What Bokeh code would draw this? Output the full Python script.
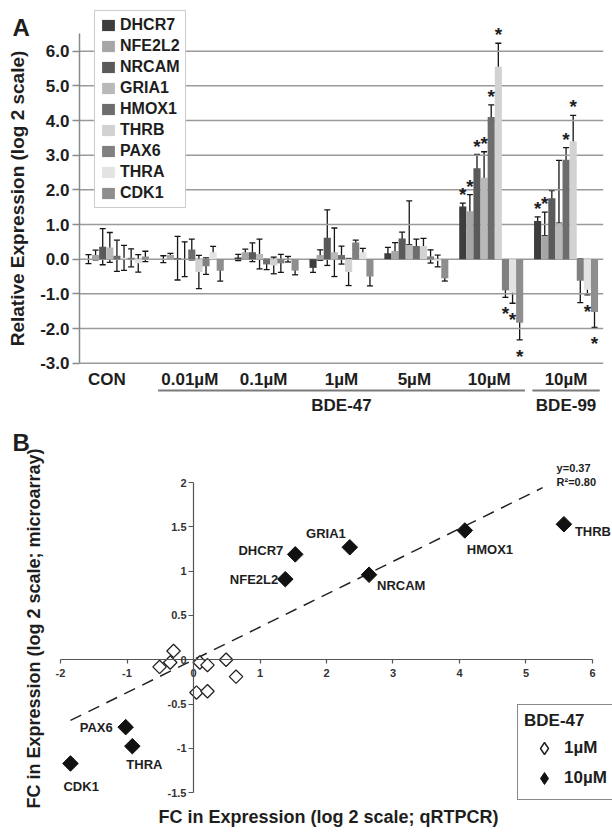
from math import pi
from bokeh.plotting import figure
from bokeh.models import (Range1d, LinearAxis, FixedTicker, NumeralTickFormatter,
                          CustomJSTickFormatter, ColumnDataSource, Whisker, TeeHead,
                          Legend, LegendItem, Label)
from bokeh.embed import file_html
from bokeh.resources import INLINE
from bokeh.core.properties import value

FONT = "Liberation Sans"
INK = "#1e1e1e"

# ---------------- Panel A data ----------------
GENES = ["DHCR7", "NFE2L2", "NRCAM", "GRIA1", "HMOX1", "THRB", "PAX6", "THRA", "CDK1"]
GROUPS = ["CON", "0.01µM", "0.1µM", "1µM", "5µM", "10µM", "10µM"]
COMPOUND_LABELS = ["BDE-47", "BDE-99"]
COMPOUND_GROUPS = [[1, 2, 3, 4, 5], [6]]
Y_TICKS_A = [-3, -2, -1, 0, 1, 2, 3, 4, 5, 6]

VALUES = {
    "DHCR7":  [0.00, 0.00, 0.05, -0.25, 0.17, 1.52, 1.10],
    "NFE2L2": [0.12, 0.12, 0.20, 0.12, 0.24, 1.38, 0.68],
    "NRCAM":  [0.36, 0.03, 0.20, 0.62, 0.60, 2.62, 1.76],
    "GRIA1":  [0.34, 0.00, 0.15, 0.20, 0.42, 2.35, 1.04],
    "HMOX1":  [0.10, 0.28, -0.15, 0.12, 0.38, 4.10, 2.87],
    "THRB":   [0.04, -0.37, -0.18, -0.37, 0.38, 5.55, 3.40],
    "PAX6":   [0.04, -0.20, -0.12, 0.48, 0.08, -0.90, -0.62],
    "THRA":   [-0.12, 0.20, 0.00, 0.20, -0.05, -0.97, -0.88],
    "CDK1":   [0.08, -0.33, -0.33, -0.50, -0.55, -1.83, -1.52],
}
ERR_UP = {
    "DHCR7":  [0.13, 0.10, 0.09, 0.13, 0.17, 0.10, 0.12],
    "NFE2L2": [0.14, 0.05, 0.09, 0.15, 0.24, 0.48, 0.68],
    "NRCAM":  [0.52, 0.63, 0.27, 0.80, 0.18, 0.40, 0.22],
    "GRIA1":  [0.43, 0.50, 0.43, 0.70, 1.26, 0.75, 1.81],
    "HMOX1":  [0.45, 0.30, 0.15, 0.26, 0.20, 0.35, 0.35],
    "THRB":   [0.36, 0.48, 0.24, 0.39, 0.22, 0.68, 0.75],
    "PAX6":   [0.26, 0.24, 0.26, 0.07, 0.19, 0.20, 0.63],
    "THRA":   [0.25, 0.17, 0.08, 0.11, 0.17, 0.30, 0.15],
    "CDK1":   [0.15, 0.30, 0.12, 0.27, 0.08, 0.50, 0.45],
}
ERR_DN = {
    "DHCR7":  [0.13, 0.10, 0.09, 0.13, 0.17, 0.10, 0.12],
    "NFE2L2": [0.14, 0.05, 0.09, 0.15, 0.24, 0.48, 0.00],
    "NRCAM":  [0.52, 0.63, 0.27, 0.80, 0.18, 0.40, 0.22],
    "GRIA1":  [0.43, 0.50, 0.43, 0.70, 0.00, 0.75, 0.00],
    "HMOX1":  [0.45, 0.30, 0.15, 0.26, 0.20, 0.35, 0.35],
    "THRB":   [0.36, 0.48, 0.24, 0.39, 0.22, 0.68, 0.75],
    "PAX6":   [0.26, 0.24, 0.26, 0.07, 0.19, 0.20, 0.63],
    "THRA":   [0.25, 0.17, 0.08, 0.11, 0.17, 0.30, 0.15],
    "CDK1":   [0.15, 0.30, 0.12, 0.27, 0.08, 0.50, 0.45],
}
STARS = {
    "DHCR7":  [0, 0, 0, 0, 0, 1, 1],
    "NFE2L2": [0, 0, 0, 0, 0, 1, 1],
    "NRCAM":  [0, 0, 0, 0, 0, 1, 0],
    "GRIA1":  [0, 0, 0, 0, 0, 1, 0],
    "HMOX1":  [0, 0, 0, 0, 0, 1, 1],
    "THRB":   [0, 0, 0, 0, 0, 1, 1],
    "PAX6":   [0, 0, 0, 0, 0, 1, 0],
    "THRA":   [0, 0, 0, 0, 0, 1, 1],
    "CDK1":   [0, 0, 0, 0, 0, 1, 1],
}
COLORS = {
    "DHCR7": "#3d3d3d", "NFE2L2": "#a6a6a6", "NRCAM": "#5a5a5a",
    "GRIA1": "#b9b9b9", "HMOX1": "#6d6d6d", "THRB": "#d2d2d2",
    "PAX6": "#808080", "THRA": "#e3e3e3", "CDK1": "#8e8e8e",
}
GROUP_LABEL_DX = [-10, -2, -3, 0, -2, -2, 0]   # style: nudges of the category labels (px)

# ---------------- Panel B data ----------------
B_GENES = ["DHCR7", "NFE2L2", "GRIA1", "NRCAM", "HMOX1", "THRB", "PAX6", "THRA", "CDK1"]
QPCR_10UM = [1.53, 1.38, 2.35, 2.64, 4.08, 5.57, -1.02, -0.92, -1.85]
ARRAY_10UM = [1.19, 0.91, 1.27, 0.96, 1.46, 1.53, -0.76, -0.975, -1.17]
QPCR_1UM = [-0.30, -0.51, -0.35, 0.095, 0.21, 0.49, 0.64, 0.045, 0.21]
ARRAY_1UM = [0.10, -0.08, -0.03, -0.03, -0.06, 0.00, -0.19, -0.37, -0.355]
FIT_SLOPE = 0.37
FIT_R2 = 0.80
FIT_X = [-1.85, 5.25]
B_X_TICKS = [-2, -1, 0, 1, 2, 3, 4, 5, 6]
B_Y_TICKS = [-1.5, -1, -0.5, 0, 0.5, 1, 1.5, 2]
B_X_TITLE = "FC in Expression (log 2 scale; qRTPCR)"
B_Y_TITLE = "FC in Expression (log 2 scale; microarray)"

# label placement (style): align, x offset px, y offset px
LABEL_STYLE = {
    "DHCR7": ("right", -12, -4), "NFE2L2": ("right", -7, 0), "GRIA1": ("right", -4, -14),
    "NRCAM": ("left", 8, 11), "HMOX1": ("left", 2, 19), "THRB": ("left", 11, 7),
    "PAX6": ("right", -13, 0), "THRA": ("left", -6, 18), "CDK1": ("left", -7, 23),
}

# =============== Panel A figure ===============
BW = 0.095
H1 = 416
p1 = figure(width=612, height=H1, x_range=Range1d(-1.0553, 7), y_range=Range1d(-4.5375, 7.4625),
            output_backend="svg", toolbar_location=None, x_axis_location=None,
            y_axis_location=None, min_border_left=0, min_border_right=9,
            min_border_top=0, min_border_bottom=0)
p1.outline_line_color = None
p1.xgrid.visible = False
p1.ygrid.visible = False

# horizontal grid lines across the plotting area
p1.segment(x0=[0] * len(Y_TICKS_A), x1=[len(GROUPS)] * len(Y_TICKS_A), y0=Y_TICKS_A, y1=Y_TICKS_A,
           line_color="#9a9a9a", line_width=1.5)

ya = LinearAxis(fixed_location=0, bounds=(-3, 6.5), ticker=FixedTicker(ticks=Y_TICKS_A),
                formatter=NumeralTickFormatter(format="0.0"),
                axis_label="Relative Expression (log 2 scale)",
                axis_label_text_font=FONT, axis_label_text_font_style="bold",
                axis_label_text_font_size="19px", axis_label_text_color=INK,
                axis_label_standoff=9,
                major_label_text_font=FONT, major_label_text_font_style="bold",
                major_label_text_font_size="17px", major_label_text_color=INK,
                major_label_standoff=3, axis_line_color="#8a8a8a", axis_line_width=1.5,
                major_tick_line_color="#8a8a8a", major_tick_line_width=1.5,
                major_tick_out=7, major_tick_in=0, minor_tick_line_color=None)
p1.add_layout(ya, "left")

legend_items = []
star_x, star_y = [], []
for gi, gene in enumerate(GENES):
    xs = [g + 0.5 + (gi - 4) * BW for g in range(len(GROUPS))]
    vals = VALUES[gene]
    up = [v + e for v, e in zip(vals, ERR_UP[gene])]
    lo = [v - e for v, e in zip(vals, ERR_DN[gene])]
    src = ColumnDataSource(dict(x=xs, top=vals, upper=up, lower=lo))
    r = p1.vbar(x="x", top="top", bottom=0, width=BW, source=src,
                fill_color=COLORS[gene], line_color=None)
    legend_items.append(LegendItem(label=gene, renderers=[r]))
    w = Whisker(source=src, base="x", upper="upper", lower="lower",
                line_color="#151515", line_width=1.3,
                upper_head=TeeHead(size=6, line_color="#151515", line_width=1.3),
                lower_head=TeeHead(size=6, line_color="#151515", line_width=1.3))
    p1.add_layout(w)
    for g in range(len(GROUPS)):
        if STARS[gene][g]:
            star_x.append(xs[g])
            star_y.append(up[g] + 0.36 if vals[g] >= 0 else lo[g] - 0.36)

p1.text(x=star_x, y=star_y, text=["*"] * len(star_x), text_font=value(FONT),
        text_font_style="bold", text_font_size="19px", text_color=INK,
        text_align="center", text_baseline="middle", y_offset=4)

# category labels
p1.text(x=[g + 0.5 for g in range(len(GROUPS))], y=[-3.47] * len(GROUPS), text=GROUPS,
        x_offset=GROUP_LABEL_DX,
        text_font=value(FONT), text_font_style="bold", text_font_size="17px",
        text_color=INK, text_align="center", text_baseline="middle")
# compound underline + labels
p1.segment(x0=[grp[0] + 0.05 for grp in COMPOUND_GROUPS],
           x1=[grp[-1] + 1 - 0.05 for grp in COMPOUND_GROUPS],
           y0=[-3.79] * 2, y1=[-3.79] * 2, line_color="#7a7a7a", line_width=2)
p1.text(x=[(grp[0] + grp[-1] + 1) / 2 for grp in COMPOUND_GROUPS], y=[-4.22] * 2,
        text=COMPOUND_LABELS, text_font=value(FONT), text_font_style="bold",
        text_font_size="17px", text_color=INK, text_align="center", text_baseline="middle")

leg1 = Legend(items=legend_items, location=(94, 208), glyph_width=16, glyph_height=14,
              label_height=18, label_standoff=4, spacing=3, padding=5, margin=0,
              label_text_font=FONT, label_text_font_style="bold",
              label_text_font_size="16px", label_text_color=INK,
              border_line_color="#9a9a9a", border_line_width=1.5,
              background_fill_color="white", background_fill_alpha=1.0)
p1.add_layout(leg1)

p1.add_layout(Label(x=12, y=13, x_units="canvas", y_units="canvas", text="A",
                    text_font=FONT, text_font_style="bold", text_font_size="24px",
                    text_color=INK, text_baseline="top"))

# =============== Panel B figure ===============
H2 = 413
p2 = figure(width=612, height=H2, x_range=Range1d(-2.9023, 6.3008), y_range=Range1d(-1.9153, 2.746),
            output_backend="svg", toolbar_location=None, x_axis_location=None,
            y_axis_location=None, min_border_left=0, min_border_right=0,
            min_border_top=0, min_border_bottom=0)
p2.outline_line_color = None
p2.xgrid.visible = False
p2.ygrid.visible = False

tick_fmt = CustomJSTickFormatter(code="return String(tick)")
common_axis = dict(axis_line_color="#555555", axis_line_width=1.2,
                   major_tick_line_color="#555555", major_tick_line_width=1.2,
                   minor_tick_line_color=None, major_tick_in=0,
                   major_label_text_font=FONT, major_label_text_font_style="bold",
                   major_label_text_font_size="11px", major_label_text_color="#333333")
xa = LinearAxis(fixed_location=0, bounds=(-2, 6), ticker=FixedTicker(ticks=B_X_TICKS),
                formatter=tick_fmt, major_tick_out=4, major_label_standoff=5, **common_axis)
p2.add_layout(xa, "below")
yb = LinearAxis(fixed_location=0, bounds=(-1.5, 2), ticker=FixedTicker(ticks=B_Y_TICKS),
                formatter=tick_fmt, major_tick_out=5, major_label_standoff=2, **common_axis)
p2.add_layout(yb, "left")

# axis titles
p2.add_layout(Label(x=328, y=400, x_units="canvas", y_units="canvas", text=B_X_TITLE,
                    text_font=FONT, text_font_style="bold", text_font_size="18px",
                    text_color=INK, text_align="center", text_baseline="middle"))
p2.add_layout(Label(x=33, y=212, x_units="canvas", y_units="canvas", text=B_Y_TITLE,
                    angle=pi / 2, text_font=FONT, text_font_style="bold",
                    text_font_size="18px", text_color=INK, text_align="center",
                    text_baseline="middle"))

# regression line
p2.line(x=FIT_X, y=[FIT_SLOPE * x for x in FIT_X], line_color="#222222",
        line_width=1.5, line_dash="12 8")
p2.text(x=[5.46, 5.46], y=[2.165, 2.005],
        text=["y=%.2f" % FIT_SLOPE, "R²=%.2f" % FIT_R2], text_font=value(FONT),
        text_font_style="bold", text_font_size="11px", text_color=INK,
        text_align="left", text_baseline="middle")

open_r = p2.scatter(x=QPCR_1UM, y=ARRAY_1UM, marker="square", angle=pi / 4, size=9.5,
                    fill_color="white", line_color="#222222", line_width=1.3)
filled_r = p2.scatter(x=QPCR_10UM, y=ARRAY_10UM, marker="square", angle=pi / 4, size=11,
                      fill_color="#111111", line_color="#111111")
# diamond-shaped stand-ins used only to draw the legend symbols
open_key = p2.scatter(x=QPCR_1UM, y=ARRAY_1UM, marker="diamond", size=10,
                      fill_color="white", line_color="#222222", line_width=1.5, visible=False)
filled_key = p2.scatter(x=QPCR_10UM, y=ARRAY_10UM, marker="diamond", size=10,
                        fill_color="#111111", line_color="#111111", visible=False)

for align in ("left", "right"):
    idx = [i for i, g in enumerate(B_GENES) if LABEL_STYLE[g][0] == align]
    src = ColumnDataSource(dict(
        x=[QPCR_10UM[i] for i in idx], y=[ARRAY_10UM[i] for i in idx],
        t=[B_GENES[i] for i in idx],
        dx=[LABEL_STYLE[B_GENES[i]][1] for i in idx],
        dy=[LABEL_STYLE[B_GENES[i]][2] for i in idx]))
    p2.text(x="x", y="y", text="t", x_offset="dx", y_offset="dy", source=src,
            text_font=value(FONT), text_font_style="bold", text_font_size="13px",
            text_color=INK, text_align=align, text_baseline="middle")

leg2 = Legend(items=[LegendItem(label="1µM", renderers=[open_key]),
                     LegendItem(label="10µM", renderers=[filled_key])],
              title="BDE-47", location=(517, 29), glyph_width=40, glyph_height=30,
              label_height=28, label_standoff=0, spacing=0, padding=6, margin=0,
              title_standoff=2,
              title_text_font=FONT, title_text_font_style="bold", title_text_font_size="17px",
              title_text_color=INK,
              label_text_font=FONT, label_text_font_style="bold", label_text_font_size="17px",
              label_text_color=INK, border_line_color="#111111", border_line_width=1.5,
              background_fill_color="white", background_fill_alpha=1.0,
              inactive_fill_alpha=0.0, click_policy="none")
p2.add_layout(leg2)

p2.add_layout(Label(x=12, y=12, x_units="canvas", y_units="canvas", text="B",
                    text_font=FONT, text_font_style="bold", text_font_size="24px",
                    text_color=INK, text_baseline="top"))

open("out.html", "w").write(file_html([p1, p2], INLINE))
